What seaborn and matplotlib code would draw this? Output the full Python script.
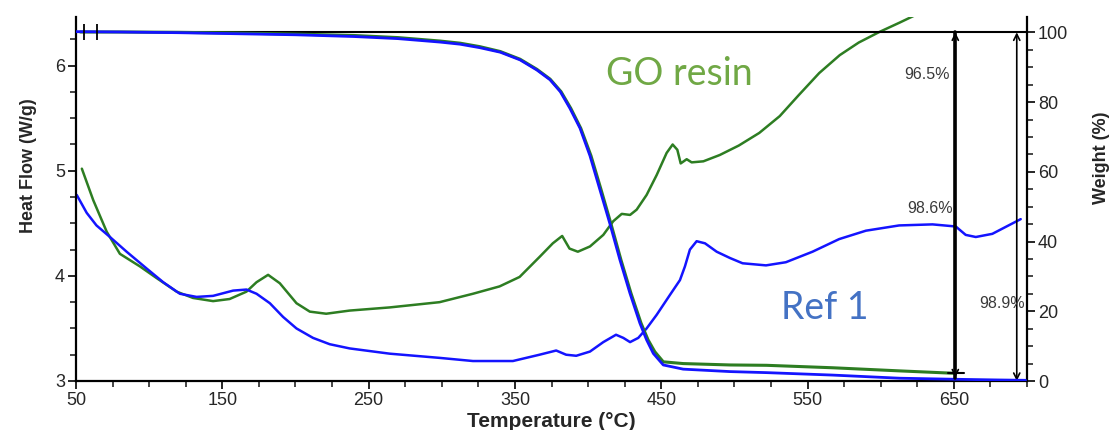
import numpy as np
import pandas as pd
import matplotlib
matplotlib.use("Agg")
import matplotlib.pyplot as plt
from matplotlib.ticker import MultipleLocator
import seaborn as sns

# ---------------- data ----------------
hf_go_temp = [54, 61.8, 71, 80, 93.7, 105, 118.8, 130, 143.7, 155, 166.5, 173.4, 181.3, 189.3,
              200.7, 209.8, 221, 237, 264.4, 298.5, 321.3, 339.5, 353.2, 366.8, 375.9, 382.3,
              387.3, 393, 401.3, 410.4, 417.2, 423, 428.7, 433.2, 440, 446.9, 453.7, 457.8,
              461, 463.3, 467.4, 470.8, 478.8, 490, 503, 517, 531, 544, 558, 572, 585, 599,
              613, 625]
hf_go_val = [5.02, 4.72, 4.42, 4.21, 4.09, 3.98, 3.85, 3.79, 3.76, 3.78, 3.85, 3.94, 4.01, 3.93,
             3.74, 3.66, 3.64, 3.67, 3.70, 3.75, 3.83, 3.90, 3.99, 4.18, 4.31, 4.38,
             4.26, 4.23, 4.28, 4.39, 4.52, 4.59, 4.58, 4.63, 4.77, 4.96, 5.17, 5.25,
             5.20, 5.07, 5.11, 5.08, 5.09, 5.15, 5.24, 5.36, 5.52, 5.72, 5.93, 6.10, 6.22, 6.32,
             6.41, 6.49]

hf_ref_temp = [50.5, 57.3, 64, 73.2, 84.6, 98.3, 109.6, 121, 132.4, 143.7, 157.4, 166.5, 173.4,
               182.5, 191.5, 200.7, 212, 223.4, 237, 264.4, 298.5, 321.3, 348.6, 366.8, 378.2,
               385, 391.9, 401.3, 410.4, 419.1, 424.1, 428.7, 434.3, 440, 446.9, 456, 462.8,
               466.2, 469.6, 474.2, 479.9, 487.9, 497, 505.6, 521.6, 535.2, 553.4, 571.6, 589.9,
               612.6, 635.4, 651.3, 658.1, 665, 676.3, 695.7]
hf_ref_val = [4.77, 4.60, 4.48, 4.37, 4.23, 4.07, 3.94, 3.83, 3.80, 3.81, 3.86, 3.87, 3.83,
              3.74, 3.61, 3.50, 3.41, 3.35, 3.31, 3.26, 3.22, 3.19, 3.19, 3.25, 3.29,
              3.25, 3.24, 3.28, 3.37, 3.44, 3.41, 3.37, 3.41, 3.50, 3.63, 3.82, 3.96,
              4.09, 4.25, 4.33, 4.31, 4.23, 4.17, 4.12, 4.10, 4.13, 4.23, 4.35, 4.43,
              4.48, 4.49, 4.47, 4.39, 4.37, 4.40, 4.54]

wt_go_temp = [53, 80, 120, 160, 200, 240, 270, 299, 312.5, 326, 340, 353.5, 365, 374, 381.5,
              388.2, 395, 402, 408.8, 415.7, 422.5, 429.3, 436.2, 441, 445.6, 451.4, 465, 497,
              522, 567, 613, 651]
wt_go_val = [100.1, 100.1, 100, 99.8, 99.5, 99.1, 98.5, 97.5, 96.9, 95.9, 94.5, 92.3, 89.4, 86.6,
             83, 78.2, 72.5, 64.6, 55, 45, 34.7, 25.2, 16.6, 11.8, 8.4, 5.5, 5.0, 4.6,
             4.5, 3.8, 2.9, 2.2]

wt_ref_temp = [50, 80, 120, 160, 200, 240, 270, 299, 312.5, 326, 340, 353.5, 365, 374, 381,
               387.6, 394.5, 401.3, 408, 415, 421.8, 428.6, 435.4, 440, 444.6, 451.4, 465, 497,
               522, 567, 613, 650, 680, 699]
wt_ref_val = [100.2, 100.1, 99.9, 99.6, 99.3, 98.8, 98.2, 97.2, 96.6, 95.6, 94.3, 92.1, 89.2, 86.4,
              83, 78.2, 72.5, 64.6, 55, 45, 34.7, 25.2, 16.6, 11.8, 7.9, 4.6, 3.4, 2.7,
              2.4, 1.7, 0.8, 0.5, 0.3, 0.2]

cursor_temps = [55.7, 64.6]
arrow_thick = (651, 100, 1.0)      # temp, top weight, bottom weight
arrow_thin = (693, 100, 0)
crossbar_weight = 2.3
labels = {"96.5%": (647.4, 88.0), "98.6%": (649.5, 49.6), "98.9%": (698.7, 22.1)}
series_labels = ["GO resin", "Ref 1"]

GREEN = "#2d7d22"
BLUE = "#1414ff"
GO_TXT = "#70a845"
REF_TXT = "#4472c4"

sns.set_style("ticks")
plt.rcParams["font.family"] = ["Liberation Sans", "DejaVu Sans"]

fig = plt.figure(figsize=(11.13, 4.30), dpi=100)
ax = fig.add_axes([76 / 1113, 1 - 381 / 430, (1027 - 76) / 1113, (381 - 17) / 430])
ax2 = ax.twinx()

df_hf_go = pd.DataFrame({"T": hf_go_temp, "v": hf_go_val})
df_hf_ref = pd.DataFrame({"T": hf_ref_temp, "v": hf_ref_val})
df_wt_go = pd.DataFrame({"T": wt_go_temp, "v": wt_go_val})
df_wt_ref = pd.DataFrame({"T": wt_ref_temp, "v": wt_ref_val})

kw = dict(sort=False, estimator=None, solid_joinstyle="round", solid_capstyle="round")
sns.lineplot(data=df_hf_go, x="T", y="v", ax=ax, color=GREEN, lw=1.8, **kw)
sns.lineplot(data=df_hf_ref, x="T", y="v", ax=ax, color=BLUE, lw=1.8, **kw)

# 100% cursor line
ax2.plot([50, 700], [100, 100], color="black", lw=1.5, zorder=1)
sns.lineplot(data=df_wt_go, x="T", y="v", ax=ax2, color=GREEN, lw=2.2, zorder=3, **kw)
sns.lineplot(data=df_wt_ref, x="T", y="v", ax=ax2, color=BLUE, lw=2.0, zorder=4, **kw)
ax2.scatter(cursor_temps, [100] * len(cursor_temps), marker="|", s=120, color="black", lw=1.3, zorder=5)

# arrows
t, a, b = arrow_thick
ax2.plot([t, t], [a, b], color="black", lw=2.6, zorder=5)
ax2.annotate("", xy=(t, b), xytext=(t, a),
             arrowprops=dict(arrowstyle="<->", color="black", lw=1.2, shrinkA=0, shrinkB=0,
                             mutation_scale=11))
ax2.plot([t - 5, t + 6], [crossbar_weight, crossbar_weight], color="black", lw=1.5, zorder=5)
t, a, b = arrow_thin
ax2.annotate("", xy=(t, b), xytext=(t, a),
             arrowprops=dict(arrowstyle="<->", color="black", lw=1.2, shrinkA=0, shrinkB=0,
                             mutation_scale=11))
for txt, (x, y) in labels.items():
    ax2.text(x, y, txt, ha="right", va="center", fontsize=11.5, color="#3a3a3a")

ax.text(0.634, 0.843, series_labels[0], transform=ax.transAxes, ha="center", va="center",
        fontsize=27, color=GO_TXT, family=["Lato", "DejaVu Sans"])
ax.text(0.7875, 0.20, series_labels[1], transform=ax.transAxes, ha="center", va="center",
        fontsize=27, color=REF_TXT, family=["Lato", "DejaVu Sans"])

# axes
ax.set_xlim(50, 700)
ax.set_ylim(3, 6.463)
ax2.set_ylim(0, 104.4)
ax.set_xticks([50, 150, 250, 350, 450, 550, 650])
ax.xaxis.set_minor_locator(MultipleLocator(25))
ax.set_yticks([3, 4, 5, 6])
ax.yaxis.set_minor_locator(MultipleLocator(0.25))
ax2.set_yticks([0, 20, 40, 60, 80, 100])
ax2.yaxis.set_minor_locator(MultipleLocator(5))

for a_ in (ax, ax2):
    a_.spines["top"].set_visible(False)
    for s in a_.spines.values():
        s.set_linewidth(1.6)
        s.set_color("black")
ax.spines["right"].set_visible(False)
ax2.spines["left"].set_visible(False)
ax2.spines["bottom"].set_visible(False)

ax.tick_params(axis="both", which="major", length=6, width=1.4, labelsize=13, direction="out", pad=2)
ax.tick_params(axis="both", which="minor", length=4, width=1.2, direction="out")
ax2.tick_params(axis="y", which="major", length=6, width=1.4, labelsize=13, direction="out", pad=2)
ax2.tick_params(axis="y", which="minor", length=4, width=1.2, direction="out")

ax.set_xlabel("Temperature (°C)", fontsize=15, fontweight="bold", labelpad=0)
ax.set_ylabel("Heat Flow (W/g)", fontsize=13, fontweight="bold")
ax2.set_ylabel("Weight (%)", fontsize=13, fontweight="bold")
ax.xaxis.set_label_coords(0.5, -0.085)
ax.yaxis.set_label_coords(-0.041, 0.593)
ax2.yaxis.set_label_coords(1.069, 0.613)
ax.grid(False)
ax2.grid(False)

fig.savefig("out.png", dpi=100)
